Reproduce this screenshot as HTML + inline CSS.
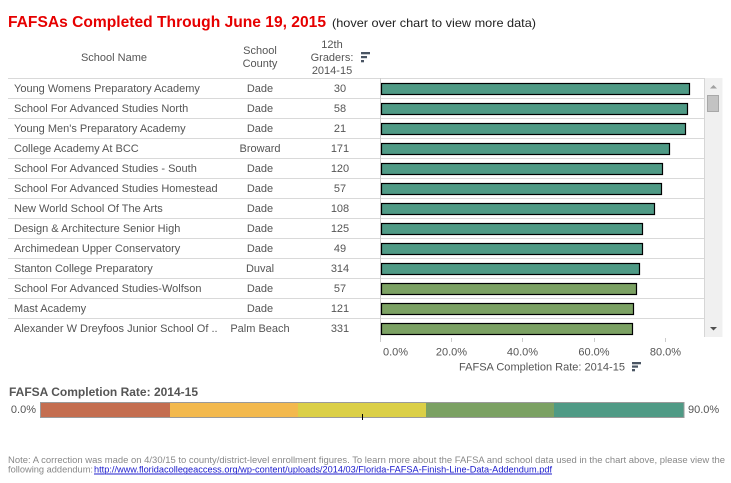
<!DOCTYPE html>
<html>
<head>
<meta charset="utf-8">
<style>
html,body{margin:0;padding:0;background:#fff;}
svg{display:block;}
text{font-family:"Liberation Sans",Arial,sans-serif;}
</style>
</head>
<body>
<svg width="731" height="483" viewBox="0 0 731 483" xmlns="http://www.w3.org/2000/svg">
  <!-- Title -->
  <text x="8" y="27" font-size="16" font-weight="bold" fill="#e60000" textLength="318" lengthAdjust="spacingAndGlyphs">FAFSAs Completed Through June 19, 2015</text>
  <text x="332" y="27" font-size="12" fill="#222" textLength="204" lengthAdjust="spacingAndGlyphs">(hover over chart to view more data)</text>

  <!-- Column headers -->
  <g font-size="11" fill="#555" text-anchor="middle">
    <text x="114" y="61">School Name</text>
    <text x="260" y="54">School</text>
    <text x="260" y="67">County</text>
    <text x="332" y="48">12th</text>
    <text x="332" y="61">Graders:</text>
    <text x="332" y="74">2014-15</text>
  </g>
  <!-- sort icon header -->
  <g fill="#4a5563">
    <rect x="361" y="52" width="9" height="2.3"/>
    <rect x="361" y="56" width="6" height="2.2"/>
    <rect x="361" y="60" width="3" height="2.3"/>
  </g>

  <!-- scrollbar -->
  <rect x="704.5" y="78" width="18" height="259" fill="#f0f0f0"/>
  <line x1="704.5" y1="78" x2="704.5" y2="337" stroke="#d6d6d6" stroke-width="1"/>
  <rect x="707.5" y="95.5" width="11" height="16" fill="#c3c3c3" stroke="#a8a8a8" stroke-width="1"/>
  <polygon points="710,88.5 717,88.5 713.5,85" fill="#a0a0a0"/>
  <polygon points="710,327 717,327 713.5,330.5" fill="#505050"/>

  <!-- row lines -->
  <g stroke="#d9d9d9" stroke-width="1">
    <line x1="8" y1="78.5" x2="704" y2="78.5"/>
    <line x1="8" y1="98.5" x2="704" y2="98.5"/>
    <line x1="8" y1="118.5" x2="704" y2="118.5"/>
    <line x1="8" y1="138.5" x2="704" y2="138.5"/>
    <line x1="8" y1="158.5" x2="704" y2="158.5"/>
    <line x1="8" y1="178.5" x2="704" y2="178.5"/>
    <line x1="8" y1="198.5" x2="704" y2="198.5"/>
    <line x1="8" y1="218.5" x2="704" y2="218.5"/>
    <line x1="8" y1="238.5" x2="704" y2="238.5"/>
    <line x1="8" y1="258.5" x2="704" y2="258.5"/>
    <line x1="8" y1="278.5" x2="704" y2="278.5"/>
    <line x1="8" y1="298.5" x2="704" y2="298.5"/>
    <line x1="8" y1="318.5" x2="704" y2="318.5"/>
  </g>
  <line x1="380.5" y1="78" x2="380.5" y2="338" stroke="#cccccc" stroke-width="1"/>

  <!-- table text -->
  <g font-size="11" fill="#555">
    <text x="14" y="92">Young Womens Preparatory Academy</text>
    <text x="14" y="112">School For Advanced Studies North</text>
    <text x="14" y="132">Young Men's Preparatory Academy</text>
    <text x="14" y="152">College Academy At BCC</text>
    <text x="14" y="172">School For Advanced Studies - South</text>
    <text x="14" y="192">School For Advanced Studies Homestead</text>
    <text x="14" y="212">New World School Of The Arts</text>
    <text x="14" y="232">Design &amp; Architecture Senior High</text>
    <text x="14" y="252">Archimedean Upper Conservatory</text>
    <text x="14" y="272">Stanton College Preparatory</text>
    <text x="14" y="292">School For Advanced Studies-Wolfson</text>
    <text x="14" y="312">Mast Academy</text>
    <text x="14" y="332">Alexander W Dreyfoos Junior School Of ..</text>
  </g>
  <g font-size="11" fill="#555" text-anchor="middle">
    <text x="260" y="92">Dade</text>
    <text x="260" y="112">Dade</text>
    <text x="260" y="132">Dade</text>
    <text x="260" y="152">Broward</text>
    <text x="260" y="172">Dade</text>
    <text x="260" y="192">Dade</text>
    <text x="260" y="212">Dade</text>
    <text x="260" y="232">Dade</text>
    <text x="260" y="252">Dade</text>
    <text x="260" y="272">Duval</text>
    <text x="260" y="292">Dade</text>
    <text x="260" y="312">Dade</text>
    <text x="260" y="332">Palm Beach</text>
  </g>
  <g font-size="11" fill="#555" text-anchor="middle">
    <text x="340" y="92">30</text>
    <text x="340" y="112">58</text>
    <text x="340" y="132">21</text>
    <text x="340" y="152">171</text>
    <text x="340" y="172">120</text>
    <text x="340" y="192">57</text>
    <text x="340" y="212">108</text>
    <text x="340" y="232">125</text>
    <text x="340" y="252">49</text>
    <text x="340" y="272">314</text>
    <text x="340" y="292">57</text>
    <text x="340" y="312">121</text>
    <text x="340" y="332">331</text>
  </g>

  <!-- bars -->
  <g stroke="#000" stroke-width="1.2">
    <rect x="381.5" y="83.5" width="308" height="11" fill="#4f9a85"/>
    <rect x="381.5" y="103.5" width="306" height="11" fill="#4f9a85"/>
    <rect x="381.5" y="123.5" width="304" height="11" fill="#4f9a85"/>
    <rect x="381.5" y="143.5" width="288" height="11" fill="#4f9a85"/>
    <rect x="381.5" y="163.5" width="281" height="11" fill="#4f9a85"/>
    <rect x="381.5" y="183.5" width="280" height="11" fill="#4f9a85"/>
    <rect x="381.5" y="203.5" width="273" height="11" fill="#4f9a85"/>
    <rect x="381.5" y="223.5" width="261" height="11" fill="#4f9a85"/>
    <rect x="381.5" y="243.5" width="261" height="11" fill="#4f9a85"/>
    <rect x="381.5" y="263.5" width="258" height="11" fill="#4f9a85"/>
    <rect x="381.5" y="283.5" width="255" height="11" fill="#7ba163"/>
    <rect x="381.5" y="303.5" width="252" height="11" fill="#7ba163"/>
    <rect x="381.5" y="323.5" width="251" height="11" fill="#7ba163"/>
  </g>

  <!-- axis ticks -->
  <g stroke="#cccccc" stroke-width="1">
    <line x1="380.5" y1="338" x2="380.5" y2="342"/>
    <line x1="451.5" y1="338" x2="451.5" y2="342"/>
    <line x1="522.5" y1="338" x2="522.5" y2="342"/>
    <line x1="594.5" y1="338" x2="594.5" y2="342"/>
    <line x1="665.5" y1="338" x2="665.5" y2="342"/>
  </g>
  <g font-size="11" fill="#555">
    <text x="383" y="355.5">0.0%</text>
    <text x="451.5" y="355.5" text-anchor="middle">20.0%</text>
    <text x="522.5" y="355.5" text-anchor="middle">40.0%</text>
    <text x="594" y="355.5" text-anchor="middle">60.0%</text>
    <text x="665.5" y="355.5" text-anchor="middle">80.0%</text>
    <text x="459" y="370.5" textLength="166" lengthAdjust="spacingAndGlyphs">FAFSA Completion Rate: 2014-15</text>
  </g>
  <g fill="#4a5563">
    <rect x="632" y="362" width="9" height="2.3"/>
    <rect x="632" y="365.5" width="6" height="2.2"/>
    <rect x="632" y="369" width="3" height="2.3"/>
  </g>

  <!-- legend -->
  <text x="9" y="396" font-size="12" font-weight="bold" fill="#555" textLength="189" lengthAdjust="spacingAndGlyphs">FAFSA Completion Rate: 2014-15</text>
  <text x="36" y="413" font-size="11" fill="#555" text-anchor="end">0.0%</text>
  <rect x="40.5" y="402.5" width="129.5" height="15" fill="#c46e50"/>
  <rect x="170" y="402.5" width="128" height="15" fill="#f3b94e"/>
  <rect x="298" y="402.5" width="128" height="15" fill="#dbcf47"/>
  <rect x="426" y="402.5" width="128" height="15" fill="#7ba163"/>
  <rect x="554" y="402.5" width="130" height="15" fill="#4f9a85"/>
  <rect x="40.5" y="402.5" width="643.5" height="15" fill="none" stroke="#9a9a9a" stroke-width="1"/>
  <line x1="362.5" y1="414" x2="362.5" y2="420" stroke="#000" stroke-width="1"/>
  <text x="688" y="413" font-size="11" fill="#555">90.0%</text>

  <!-- note -->
  <text x="8" y="463" font-size="9" fill="#888" textLength="717" lengthAdjust="spacingAndGlyphs">Note: A correction was made on 4/30/15 to county/district-level enrollment figures.  To learn more about the FAFSA and school data used in the chart above, please view the</text>
  <text x="8" y="472.5" font-size="9" fill="#888" textLength="85" lengthAdjust="spacingAndGlyphs">following addendum:</text>
  <text x="94" y="472.5" font-size="9" fill="#1a1acc" text-decoration="underline" textLength="458" lengthAdjust="spacingAndGlyphs">http://www.floridacollegeaccess.org/wp-content/uploads/2014/03/Florida-FAFSA-Finish-Line-Data-Addendum.pdf</text>
  <line x1="94" y1="474" x2="552" y2="474" stroke="#1a1acc" stroke-width="0.8"/>
</svg>
</body>
</html>
